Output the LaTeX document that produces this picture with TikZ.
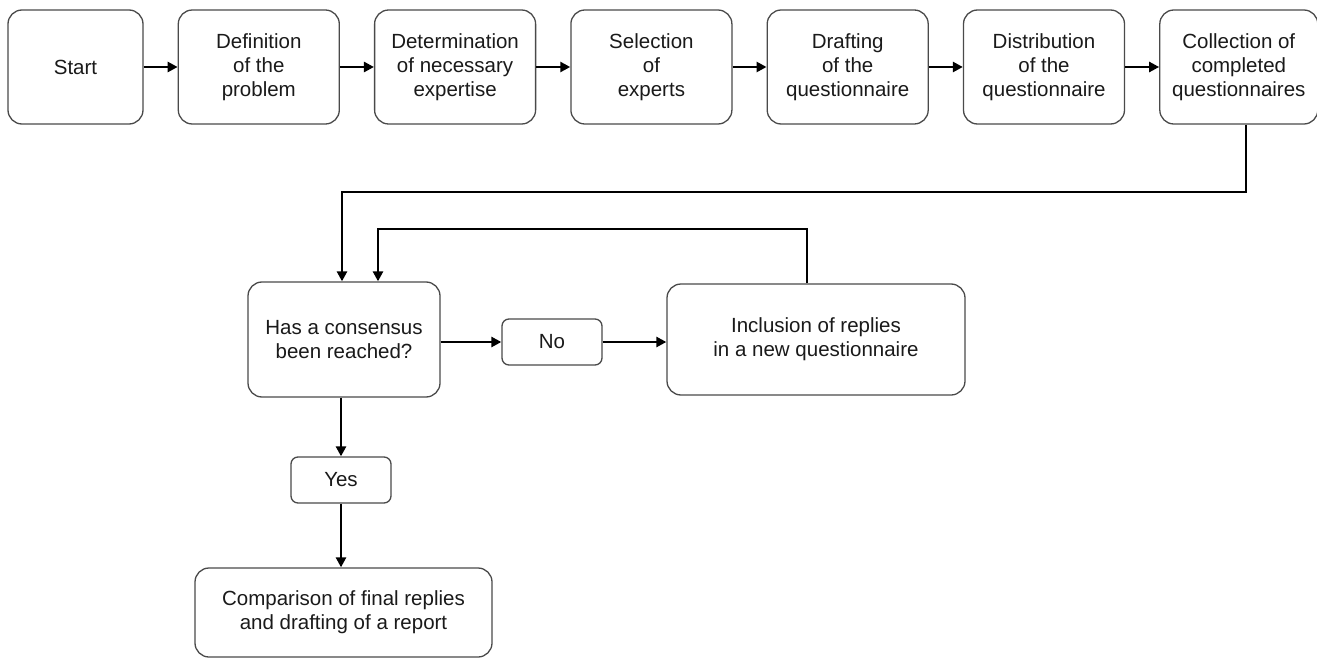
\documentclass[tikz,border=0pt]{standalone}
\usepackage{fontspec}
\setmainfont{Liberation Sans}
\usetikzlibrary{arrows.meta,positioning,calc}
\definecolor{edge}{HTML}{4A4A4A}
\definecolor{ink}{HTML}{1A1A1A}
\tikzset{
  box/.style={draw=edge,line width=1.3pt,rounded corners=14pt,fill=white,align=center,
    inner sep=3pt,text=ink,font=\fontsize{20.5}{24}\selectfont,minimum width=161pt,minimum height=114pt},
  lbox/.style={box,rounded corners=7pt,minimum width=100pt,minimum height=46pt},
  ar/.style={-{Triangle[length=10pt,width=10pt]},line width=2.6pt,draw=black},
}
\begin{document}
\begin{tikzpicture}[x=1pt,y=-1pt,node distance=34pt]
\useasboundingbox (0,0) rectangle (1317,658);
\node[box,minimum width=135pt] (start) at (75.5,67) {Start};
\node[box,right=of start] (def) {Definition\\of the\\problem};
\node[box,right=of def] (exp) {Determination\\of necessary\\expertise};
\node[box,right=of exp] (sel) {Selection\\of\\experts};
\node[box,right=of sel] (draft) {Drafting\\of the\\questionnaire};
\node[box,right=of draft] (dist) {Distribution\\of the\\questionnaire};
\node[box,right=of dist,minimum width=158pt] (coll) {Collection of\\completed\\questionnaires};
\node[box,minimum width=192pt,minimum height=115pt] (cons) at (344,339.5) {Has a consensus\\been reached?};
\node[lbox] (no) at (552,342) {No};
\node[box,minimum width=298pt,minimum height=111pt] (incl) at (816,339.5) {Inclusion of replies\\in a new questionnaire};
\node[lbox] (yes) at (341,480) {Yes};
\node[box,minimum width=297pt,minimum height=89pt] (comp) at (343.5,612.5) {Comparison of final replies\\and drafting of a report};
\coordinate (back) at (342,192);
\coordinate (loop) at (378,229);
\draw[ar] (start) -- (def);
\draw[ar] (def) -- (exp);
\draw[ar] (exp) -- (sel);
\draw[ar] (sel) -- (draft);
\draw[ar] (draft) -- (dist);
\draw[ar] (dist) -- (coll);
\draw[ar] ([xshift=7pt]coll.south) |- (back) -- (cons.north -| back);
\draw[ar] ([xshift=-9pt]incl.north) |- (loop) -- (cons.north -| loop);
\draw[ar] (cons.east |- no) -- (no);
\draw[ar] (no) -- (incl.west |- no);
\draw[ar] (cons.south -| yes) -- (yes);
\draw[ar] (yes) -- (yes.south |- comp.north);
\end{tikzpicture}
\end{document}
